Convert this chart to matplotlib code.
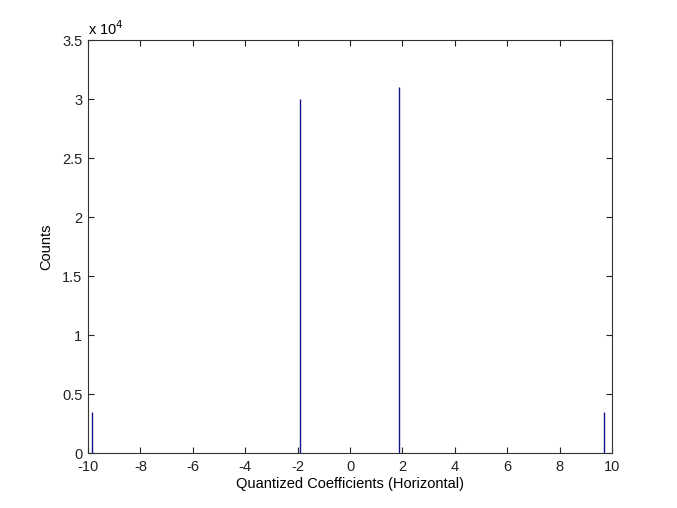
import numpy as np
import matplotlib
matplotlib.use("Agg")
import matplotlib.pyplot as plt

plt.rcParams["font.family"] = ["Liberation Sans", "DejaVu Sans"]
plt.rcParams["axes.unicode_minus"] = False

# histogram bins (bin centres) and counts
bin_centres = [-9.84, -1.91, 1.88, 9.68]
counts = [3470, 30000, 31000, 3470]

x_ticks = list(range(-10, 11, 2))
y_ticks = [0, 5000, 10000, 15000, 20000, 25000, 30000, 35000]
y_tick_labels = ["0", "0.5", "1", "1.5", "2", "2.5", "3", "3.5"]

fig = plt.figure(figsize=(6.77, 5.08), dpi=100)
ax = fig.add_axes([0.130, 0.108, 0.774, 0.813])

# bins are narrower than a pixel, so draw them as 1px lines (like MATLAB hist)
ax.vlines(bin_centres, 0, counts, colors="#14148a", linewidth=1.0)

ax.set_xlim(-10, 10)
ax.set_ylim(0, 35000)
ax.set_xticks(x_ticks)
ax.set_xticklabels([str(t) for t in x_ticks])
ax.set_yticks(y_ticks)
ax.set_yticklabels(y_tick_labels)

ax.tick_params(direction="in", top=True, right=True, length=4, width=0.8,
               labelsize=10.5, colors="#222222")
ax.tick_params(axis="x", pad=5)
ax.tick_params(axis="y", pad=4)
for s in ax.spines.values():
    s.set_linewidth(0.8)
    s.set_color("#333333")

ax.set_xlabel("Quantized Coefficients (Horizontal)", fontsize=10.5, labelpad=2)
ax.set_ylabel("Counts", fontsize=10.5, labelpad=6)
ax.text(0.0, 1.005, r"x 10$^{4}$", transform=ax.transAxes, fontsize=10.5,
        ha="left", va="bottom")

fig.savefig("out.png", dpi=100, facecolor="white")
